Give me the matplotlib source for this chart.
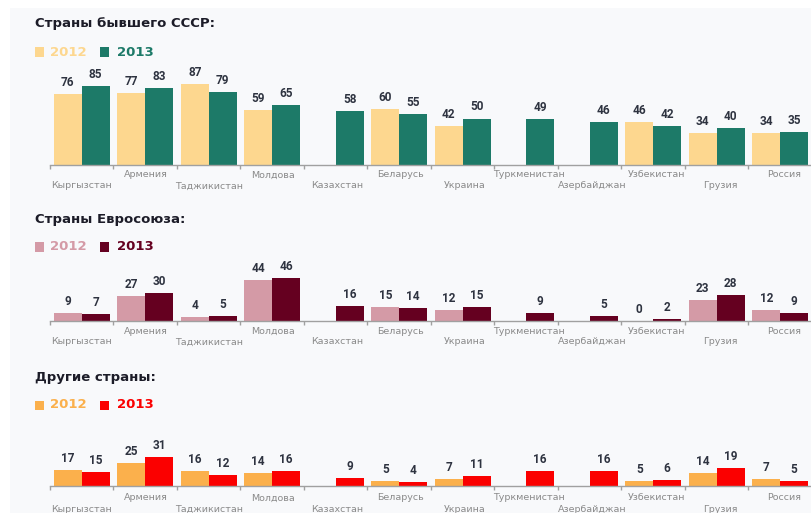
import matplotlib
matplotlib.use('Agg')
import matplotlib.pyplot as plt
from matplotlib.patches import Rectangle
import numpy as np

# страны (общие для всех трёх блоков)
countries = ['Кыргызстан', 'Армения', 'Таджикистан', 'Молдова', 'Казахстан', 'Беларусь',
             'Украина', 'Туркменистан', 'Азербайджан', 'Узбекистан', 'Грузия', 'Россия']

# None = нет данных за год
ussr_2012 = [76, 77, 87, 59, None, 60, 42, None, None, 46, 34, 34]
ussr_2013 = [85, 83, 79, 65, 58, 55, 50, 49, 46, 42, 40, 35]

eu_2012 = [9, 27, 4, 44, None, 15, 12, None, None, 0, 23, 12]
eu_2013 = [7, 30, 5, 46, 16, 14, 15, 9, 5, 2, 28, 9]

other_2012 = [17, 25, 16, 14, None, 5, 7, None, None, 5, 14, 7]
other_2013 = [15, 31, 12, 16, 9, 4, 11, 16, 16, 6, 19, 5]

titles = ['Страны бывшего СССР:', 'Страны Евросоюза:', 'Другие страны:']
years = ['2012', '2013']

W, H = 812, 513
fig = plt.figure(figsize=(W / 100, H / 100), dpi=100, facecolor='white')

# светлый фон
fig.patches.append(Rectangle((10 / W, 0), 1, 1 - 8 / H, transform=fig.transFigure,
                             facecolor='#f8f9fb', edgecolor='none', zorder=-5))

panels = [
    # (данные 2012, данные 2013, цвета, y базовой линии, y заголовка, y легенды)
    (ussr_2012, ussr_2013, ('#fdd78f', '#1d7a68'), 165, 24, 52),
    (eu_2012, eu_2013, ('#d49aa6', '#650020'), 321, 220, 247),
    (other_2012, other_2013, ('#fbb04c', '#fb0000'), 486, 377, 405),
]

px_per_unit = 0.93
group_px = 63.8
left_px = 50
axes_w = W - left_px
num_font = ['Roboto', 'DejaVu Sans']


def fx(x):
    return x / W


def fy(y):
    return 1 - y / H


x = np.arange(len(countries))
bw = 0.44

for i, (v12, v13, cols, base, ty, ly) in enumerate(panels):
    top_units = 100
    h_px = top_units * px_per_unit
    ax = fig.add_axes([fx(left_px), fy(base), axes_w / W, h_px / H])
    ax.set_facecolor('none')
    ax.set_xlim(-0.5, -0.5 + axes_w / group_px)
    ax.set_ylim(0, top_units)

    for vals, off, c in [(v12, -bw / 2, cols[0]), (v13, bw / 2, cols[1])]:
        for xi, v in zip(x, vals):
            if v is None:
                continue
            ax.bar(xi + off, v, width=bw, color=c, clip_on=False)
            ax.text(xi + off, v + 5 / px_per_unit, str(v), ha='center', va='bottom',
                    fontsize=8.5, fontweight='bold', color='#2e3340', family=num_font)

    for s in ['top', 'right', 'left']:
        ax.spines[s].set_visible(False)
    ax.spines['bottom'].set_color('#a0a0a0')
    ax.spines['bottom'].set_linewidth(1)
    ax.set_yticks([])
    ax.set_xticks(np.arange(-0.5, len(countries), 1.0))
    ax.set_xticklabels([])
    ax.tick_params(axis='x', length=3, color='#a0a0a0', width=1)

    # подписи стран в два ряда
    for xi, name in enumerate(countries):
        dy = 10 if xi % 2 else 21
        if i == 2:
            dy += 2
        fig.text(fx(left_px + (xi + 0.5) * group_px), fy(base + dy), name,
                 ha='center', va='center', fontsize=6.8, color='#8a8a8a')

    # заголовок
    fig.text(fx(35), fy(ty), titles[i], ha='left', va='center', fontsize=9.5,
             fontweight='bold', color='#1c1c28')

    # легенда
    for k, (lx, tx) in enumerate([(35, 50), (100, 117)]):
        fig.patches.append(Rectangle((fx(lx), fy(ly + 4.5)), 9 / W, 9 / H,
                                     transform=fig.transFigure, facecolor=cols[k],
                                     edgecolor='none'))
        fig.text(fx(tx), fy(ly), years[k], ha='left', va='center', fontsize=9.5,
                 fontweight='bold', color=cols[k])

fig.savefig('out.png', dpi=100, facecolor='white')
